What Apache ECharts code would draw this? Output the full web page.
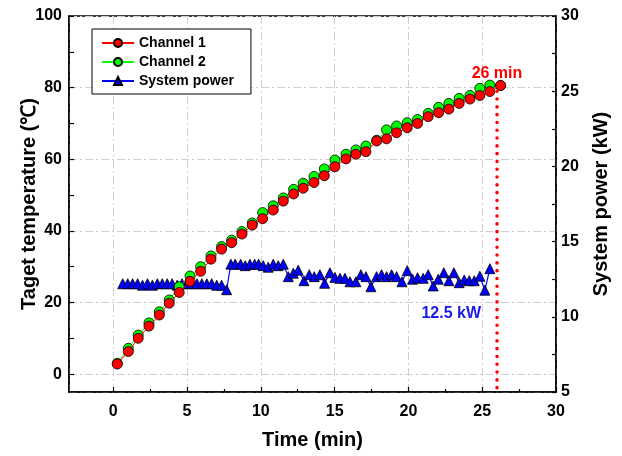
<!DOCTYPE html>
<html>
<head>
<meta charset="utf-8">
<script src="https://cdn.jsdelivr.net/npm/echarts@6/dist/echarts.min.js"></script>
<style>
html, body {margin: 0; padding: 0; background: #fff;}
#chart {width: 622px; height: 456px;}
</style>
</head>
<body>
<div id="chart"></div>
<script>
// 温度数据 (min, ℃)
var chTime = [0.27, 1.02, 1.69, 2.42, 3.12, 3.79, 4.47, 5.2, 5.92, 6.62, 7.34, 8.02, 8.72, 9.42, 10.12, 10.84, 11.52, 12.22, 12.87, 13.6, 14.3, 15.02, 15.77, 16.44, 17.12, 17.85, 18.52, 19.2, 19.92, 20.62, 21.34, 22.05, 22.74, 23.44, 24.17, 24.84, 25.52, 26.25];
var ch1Temp = [2.8, 6.3, 10.0, 13.4, 16.5, 19.8, 22.8, 25.9, 28.7, 32.1, 34.9, 36.7, 39.1, 41.6, 43.4, 45.8, 48.3, 50.3, 51.9, 53.5, 55.4, 57.9, 60.1, 61.4, 62.1, 65.1, 65.7, 67.4, 68.8, 70.0, 71.9, 73.0, 74.0, 75.6, 76.8, 77.8, 78.9, 80.6];
var ch2Temp = [3.0, 7.2, 10.9, 14.3, 17.4, 20.7, 24.4, 27.4, 30.0, 33.0, 35.6, 37.4, 39.8, 42.2, 45.1, 47.0, 49.2, 51.6, 53.3, 55.2, 57.3, 59.8, 61.4, 62.6, 63.7, 65.3, 68.2, 69.3, 70.2, 71.1, 72.8, 74.5, 75.6, 77.0, 77.8, 79.8, 80.7, 80.6];

// 系统功率 (min, kW)
var powerTime = [0.64, 0.98, 1.31, 1.65, 1.98, 2.32, 2.65, 2.99, 3.32, 3.66, 3.99, 4.33, 4.66, 5.0, 5.33, 5.67, 6.0, 6.34, 6.67, 7.01, 7.34, 7.68,
    7.97, 8.26, 8.63, 8.94, 9.26, 9.58, 9.85, 10.16, 10.5, 10.84, 11.18, 11.52,
    11.86, 12.2, 12.53, 12.92, 13.28, 13.62, 14.0, 14.32, 14.68, 15.02, 15.36, 15.7, 16.04, 16.44, 16.78, 17.12, 17.46, 17.84, 18.18, 18.52,
    18.86, 19.2, 19.56, 19.92, 20.28, 20.62, 21.0, 21.34, 21.68, 22.02, 22.4, 22.74, 23.08, 23.44, 23.78, 24.12, 24.46, 24.84, 25.18, 25.52];
var powerKW = [12.2, 12.2, 12.2, 12.2, 12.1, 12.2, 12.1, 12.2, 12.2, 12.2, 12.2, 12.1, 12.2, 12.2, 12.2, 12.2, 12.2, 12.2, 12.2, 12.1, 12.1, 11.8,
    13.5, 13.5, 13.5, 13.4, 13.5, 13.5, 13.5, 13.4, 13.3, 13.5, 13.4, 13.5,
    12.67, 12.9, 13.1, 12.4, 12.8, 12.67, 12.8, 12.23, 12.93, 12.62, 12.56, 12.56, 12.33, 12.33, 12.8, 12.67, 12.0, 12.67, 12.8, 12.67,
    12.8, 12.67, 12.33, 13.07, 12.5, 12.6, 12.56, 12.8, 12.05, 12.5, 12.93, 12.4, 12.93, 12.27, 12.45, 12.4, 12.4, 12.7, 11.77, 13.2];

// 标注
var endTime = 26;
var endLineTop = 79;
var powerNote = '12.5 kW';
var powerNotePos = [22.9, 10.2];
var xMinorTicks = [2.5, 7.5, 12.5, 17.5, 22.5, 27.5];
var yMinorTicks = [10, 30, 50, 70, 90];

function pairs(xs, ys) {
    var out = [];
    for (var i = 0; i < xs.length; i++) out.push([xs[i], ys[i]]);
    return out;
}

var FONT = 'Liberation Sans, Arial, sans-serif';
var gridLine = {show: true, lineStyle: {color: '#cfcfcf', width: 1, type: [8, 3, 2, 3]}};
var labelStyle = {color: '#000', fontSize: 16, fontWeight: 'bold', fontFamily: FONT};
var nameStyle = {color: '#000', fontSize: 20, fontWeight: 'bold', fontFamily: FONT};
var blackLine = {show: true, onZero: false, lineStyle: {color: '#000', width: 1.5}};
var noLine = {show: false, onZero: false};

var myChart = echarts.init(document.getElementById('chart'));
var option = {
    animation: false,
    backgroundColor: '#fff',
    grid: {
        left: 69, right: 66, top: 16, bottom: 64,
        show: true, borderColor: '#000', borderWidth: 1.5,
        outerBoundsMode: 'none'
    },
    legend: {
        orient: 'vertical',
        left: 92, top: 29,
        data: ['Channel 1', 'Channel 2', 'System power'],
        backgroundColor: '#fff',
        borderColor: '#000',
        borderWidth: 1,
        padding: [7, 17, 6, 9],
        itemWidth: 32,
        itemHeight: 10,
        itemGap: 5,
        textStyle: {color: '#000', fontSize: 14, fontWeight: 'bold', fontFamily: FONT, lineHeight: 14}
    },
    xAxis: [{
        type: 'value',
        min: -3, max: 30, splitNumber: 6,
        name: 'Time (min)',
        nameLocation: 'middle',
        nameGap: 38,
        nameMoveOverlap: false,
        nameTextStyle: nameStyle,
        axisLine: blackLine,
        axisTick: {inside: true, length: 5, lineStyle: {color: '#000', width: 1.2}},
        axisLabel: Object.assign({showMinLabel: false, margin: 12}, labelStyle),
        splitLine: gridLine
    }, {
        type: 'value',
        min: -3, max: 30,
        position: 'bottom',
        axisLine: noLine,
        axisLabel: {show: false},
        splitLine: {show: false},
        axisTick: {inside: true, length: 3, customValues: xMinorTicks, lineStyle: {color: '#000', width: 1.2}}
    }],
    yAxis: [{
        type: 'value',
        position: 'left',
        min: -5, max: 100, splitNumber: 5,
        name: 'Taget temperature (℃)',
        nameLocation: 'middle',
        nameRotate: 90,
        nameGap: 30,
        nameMoveOverlap: false,
        nameTextStyle: nameStyle,
        axisLine: blackLine,
        axisTick: {inside: true, length: 5, lineStyle: {color: '#000', width: 1.2}},
        axisLabel: Object.assign({showMinLabel: false, margin: 7}, labelStyle),
        splitLine: gridLine
    }, {
        type: 'value',
        position: 'right',
        min: 5, max: 30, interval: 5,
        name: 'System power (kW)',
        nameLocation: 'middle',
        nameRotate: 90,
        nameGap: 35,
        nameMoveOverlap: false,
        nameTextStyle: nameStyle,
        axisLine: blackLine,
        axisTick: {inside: true, length: 4, lineStyle: {color: '#000', width: 1.2}},
        minorTick: {show: true, splitNumber: 2, length: 4, lineStyle: {color: '#000', width: 1.2}},
        axisLabel: Object.assign({margin: 5}, labelStyle),
        splitLine: {show: false}
    }, {
        type: 'value',
        position: 'left',
        min: -5, max: 100,
        axisLine: noLine,
        axisLabel: {show: false},
        splitLine: {show: false},
        axisTick: {inside: true, length: 5, customValues: yMinorTicks, lineStyle: {color: '#000', width: 1.2}}
    }],
    series: [{
        name: 'System power',
        type: 'line',
        xAxisIndex: 0,
        yAxisIndex: 1,
        data: pairs(powerTime, powerKW),
        symbol: 'triangle',
        symbolSize: 10,
        itemStyle: {color: '#0000ff', borderColor: '#000', borderWidth: 0.8},
        lineStyle: {color: '#0000ff', width: 1.2},
        markPoint: {
            symbol: 'circle',
            symbolSize: 0,
            label: {show: true, position: 'inside', formatter: powerNote, color: '#1a1aee', fontSize: 16, fontWeight: 'bold', fontFamily: FONT},
            data: [{coord: powerNotePos}]
        },
        z: 2
    }, {
        name: 'Channel 2',
        type: 'line',
        xAxisIndex: 0,
        yAxisIndex: 0,
        data: pairs(chTime, ch2Temp),
        symbol: 'circle',
        symbolSize: 10,
        itemStyle: {color: '#00ff00', borderColor: '#000', borderWidth: 0.8},
        lineStyle: {color: '#00ff00', width: 1},
        z: 3
    }, {
        name: 'Channel 1',
        type: 'line',
        xAxisIndex: 0,
        yAxisIndex: 0,
        data: pairs(chTime, ch1Temp),
        symbol: 'circle',
        symbolSize: 10,
        itemStyle: {color: '#ff0000', borderColor: '#000', borderWidth: 0.8},
        lineStyle: {color: '#ff0000', width: 1},
        markLine: {
            silent: true,
            symbol: ['none', 'none'],
            lineStyle: {color: '#ff0000', width: 3.5, type: [0.1, 7.7], cap: 'round'},
            label: {show: true, position: 'start', formatter: endTime + ' min', color: '#ff0000', fontSize: 16, fontWeight: 'bold', fontFamily: FONT, distance: 10},
            data: [[{coord: [endTime, endLineTop]}, {coord: [endTime, -5]}]]
        },
        z: 4
    }]
};

myChart.setOption(option);
</script>
</body>
</html>
